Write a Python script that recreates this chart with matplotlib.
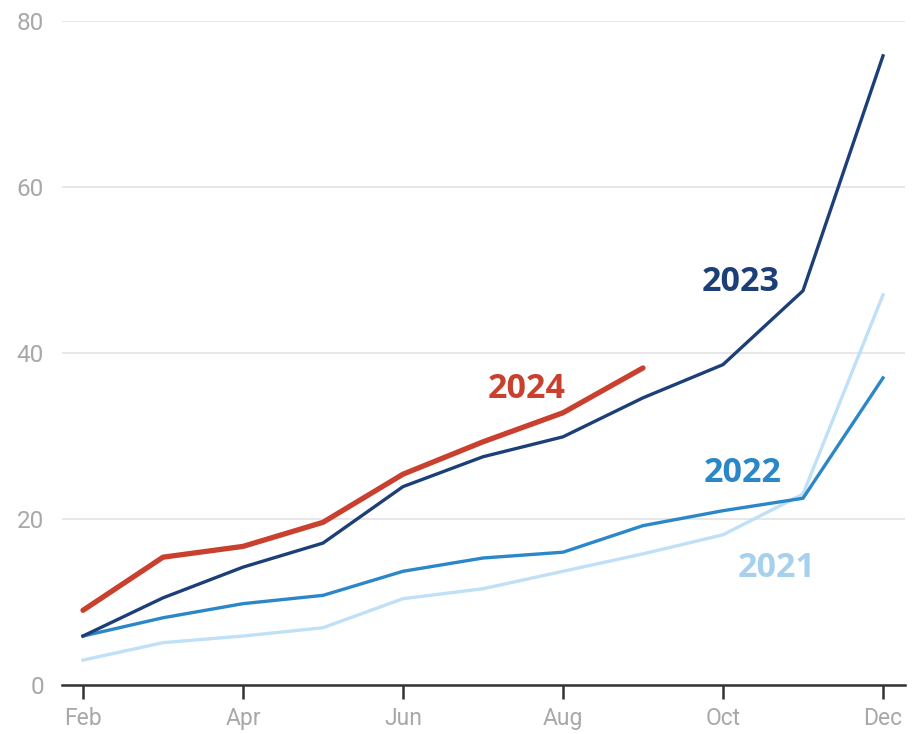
import matplotlib
matplotlib.use("Agg")
import matplotlib.pyplot as plt

months = ["Feb", "Mar", "Apr", "May", "Jun", "Jul", "Aug", "Sep", "Oct", "Nov", "Dec"]
tick_months = ["Feb", "Apr", "Jun", "Aug", "Oct", "Dec"]
y_ticks = [0, 20, 40, 60, 80]

s2021 = [3.0, 5.1, 5.9, 6.9, 10.4, 11.6, 13.7, 15.8, 18.1, 23.0, 47.0]
s2022 = [5.9, 8.1, 9.8, 10.8, 13.7, 15.3, 16.0, 19.2, 21.0, 22.5, 37.0]
s2023 = [5.9, 10.5, 14.2, 17.1, 23.9, 27.5, 29.9, 34.6, 38.6, 47.5, 75.8]
s2024 = [9.0, 15.4, 16.7, 19.6, 25.4, 29.3, 32.8, 38.2]

c2021 = "#bfe0f6"
c2021_text = "#a6d0ec"
c2022 = "#2b87c8"
c2023 = "#1d3f78"
c2024 = "#c9402e"

fig = plt.figure(figsize=(9.22, 7.34), dpi=100)
ax = fig.add_axes([62/922, (734-685)/734, (905-62)/922, 664/734])

x_all = list(range(len(months)))
ax.plot(x_all, s2021, color=c2021, lw=2.4, solid_joinstyle="round", zorder=2)
ax.plot(x_all, s2022, color=c2022, lw=2.4, solid_joinstyle="round", zorder=3)
ax.plot(x_all, s2023, color=c2023, lw=2.4, solid_joinstyle="round", zorder=4)
ax.plot(x_all[:len(s2024)], s2024, color=c2024, lw=3.8, solid_joinstyle="round",
        solid_capstyle="round", zorder=5)

font = "Open Sans"
fs = 24.5
ax.text(5.54, 35.7, "2024", color=c2024, fontsize=fs, fontweight="bold", family=font, ha="center", va="center")
ax.text(8.225, 48.6, "2023", color=c2023, fontsize=fs, fontweight="bold", family=font, ha="center", va="center")
ax.text(8.24, 25.6, "2022", color=c2022, fontsize=fs, fontweight="bold", family=font, ha="center", va="center")
ax.text(8.675, 14.1, "2021", color=c2021_text, fontsize=fs, fontweight="bold", family=font, ha="center", va="center")

ax.set_xlim(-0.2625, 10.275)
ax.set_ylim(0, 80)
ax.set_yticks(y_ticks)
ax.set_yticklabels([str(v) for v in y_ticks])
ax.set_xticks([months.index(m) for m in tick_months])
ax.set_xticklabels(tick_months)

ax.grid(axis="y", color="#e3e3e3", lw=1.2, zorder=0)
ax.set_axisbelow(True)
for side in ["left", "right", "top"]:
    ax.spines[side].set_visible(False)
ax.spines["bottom"].set_color("#333333")
ax.spines["bottom"].set_linewidth(1.8)
ax.tick_params(axis="y", length=0, pad=13, labelsize=17.5, labelcolor="#a8a8a8")
ax.tick_params(axis="x", length=10, width=1.8, color="#333333", pad=6, labelsize=16.5, labelcolor="#a8a8a8")
for lab in ax.get_xticklabels() + ax.get_yticklabels():
    lab.set_family("Roboto")

fig.savefig("out.png", dpi=100)
